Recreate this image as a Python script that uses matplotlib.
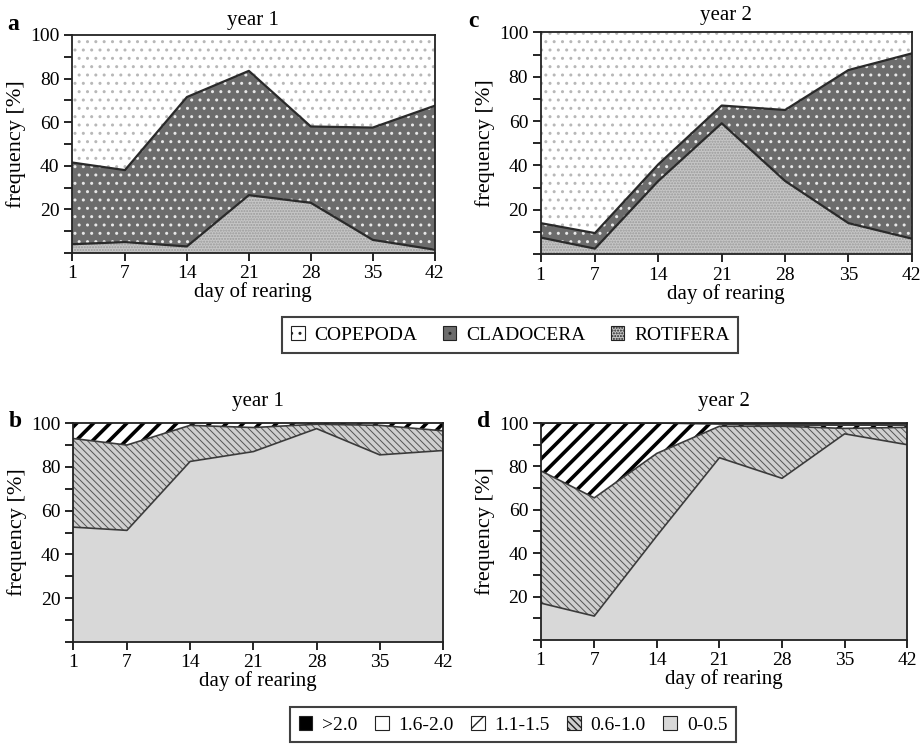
import matplotlib
matplotlib.use("Agg")
import matplotlib.pyplot as plt
from matplotlib.patches import Patch
import numpy as np

plt.rcParams['font.family'] = ['Liberation Serif', 'DejaVu Serif']

days = [1, 7, 14, 21, 28, 35, 42]

# panel a / c: food composition [%]
rotifera_y1 = [4, 5, 3, 26.5, 23, 6, 1.5]
cladocera_y1 = [37.5, 33, 68.5, 57, 35, 51.5, 66]
copepoda_y1 = [58.5, 62, 28.5, 16.5, 42, 42.5, 32.5]

rotifera_y2 = [7.5, 2.5, 33, 59, 33, 14, 7]
cladocera_y2 = [6.5, 7, 7.5, 8, 32, 69, 83.5]
copepoda_y2 = [86, 90.5, 59.5, 33, 35, 17, 9.5]

# panel b / d: size classes [%]
size_labels = ['>2.0', '1.6-2.0', '1.1-1.5', '0.6-1.0', '0-0.5']
s05_y1 = [52.5, 51, 82.5, 87, 97.5, 85.5, 87.5]
s10_y1 = [40.5, 39, 16.5, 11, 2, 13.5, 9]
s15_y1 = [7, 10, 1, 2, 0.5, 1, 3.5]
s20_y1 = [0, 0, 0, 0, 0, 0, 0]
s2p_y1 = [0, 0, 0, 0, 0, 0, 0]

s05_y2 = [17, 11, 48, 84, 74.5, 95, 90]
s10_y2 = [61, 54.5, 38, 14.5, 24, 2.5, 8]
s15_y2 = [22, 34.5, 14, 1, 0.5, 1.5, 1]
s20_y2 = [0, 0, 0, 0.5, 0.5, 0.5, 0.5]
s2p_y2 = [0, 0, 0, 0, 0.5, 0.5, 0.5]

# styles: (facecolor, hatch, hatchcolor, hatch linewidth)
food_styles = {
    'ROTIFERA': ('#c6c6c6', '......', '#9a9a9a', 1.0),
    'CLADOCERA': ('#6c6c6c', '..', '#e8e8e8', 1.0),
    'COPEPODA': ('#ffffff', '..', '#b8b8b8', 1.0),
}
size_styles = {
    '0-0.5': ('#d8d8d8', None, '#d8d8d8', 1.0),
    '0.6-1.0': ('#cfcfcf', '\\\\\\\\\\', '#555555', 0.7),
    '1.1-1.5': ('#ffffff', '//', '#000000', 2.6),
    '1.6-2.0': ('#ffffff', None, '#000000', 1.0),
    '>2.0': ('#000000', None, '#000000', 1.0),
}

fig = plt.figure(figsize=(9.21, 7.52), dpi=100)

ax_a = fig.add_axes([0.078, 0.6636, 0.394, 0.290])
ax_c = fig.add_axes([0.587, 0.662, 0.403, 0.295])
ax_b = fig.add_axes([0.079, 0.1463, 0.402, 0.291])
ax_d = fig.add_axes([0.587, 0.149, 0.398, 0.2885])


def stack(ax, layers, styles, line_color, line_width):
    x = np.array(days)
    base = np.zeros(len(days))
    for name, vals in layers:
        fc, hatch, hc, hlw = styles[name]
        top = base + np.array(vals)
        with plt.rc_context({'hatch.linewidth': hlw}):
            poly = ax.fill_between(x, base, top, facecolor=fc, hatch=hatch,
                                   edgecolor=hc, linewidth=0, zorder=1)
            if hasattr(poly, 'set_hatch_linewidth'):
                poly.set_hatch_linewidth(hlw)
        if top.min() < 99.9:
            ax.plot(x, top, color=line_color, lw=line_width, zorder=2)
        base = top


def style_axes(ax, title, letter, lx, ly, title_pad):
    ax.set_xlim(1, 42)
    ax.set_ylim(0, 100)
    ax.set_xticks(days)
    ax.set_yticks(range(0, 101, 10))
    ax.set_yticklabels(['' if v % 20 or v == 0 else str(v) for v in range(0, 101, 10)])
    ax.tick_params(direction='out', length=6, width=1.2, labelsize=14, pad=3)
    for s in ax.spines.values():
        s.set_linewidth(1.3)
        s.set_color('#222222')
        s.set_zorder(3)
    ax.set_xlabel('day of rearing', fontsize=15, labelpad=0)
    ax.set_ylabel('frequency [%]', fontsize=16, labelpad=3)
    ax.set_title(title, fontsize=15, pad=title_pad)
    fig.text(lx, ly, letter, fontsize=17, fontweight='bold', ha='left', va='center')


stack(ax_a, [('ROTIFERA', rotifera_y1), ('CLADOCERA', cladocera_y1),
             ('COPEPODA', copepoda_y1)], food_styles, '#2a2a2a', 1.6)
stack(ax_c, [('ROTIFERA', rotifera_y2), ('CLADOCERA', cladocera_y2),
             ('COPEPODA', copepoda_y2)], food_styles, '#2a2a2a', 1.6)
stack(ax_b, [('0-0.5', s05_y1), ('0.6-1.0', s10_y1), ('1.1-1.5', s15_y1),
             ('1.6-2.0', s20_y1), ('>2.0', s2p_y1)], size_styles, '#3a3a3a', 1.2)
stack(ax_d, [('0-0.5', s05_y2), ('0.6-1.0', s10_y2), ('1.1-1.5', s15_y2),
             ('1.6-2.0', s20_y2), ('>2.0', s2p_y2)], size_styles, '#3a3a3a', 1.2)

style_axes(ax_a, 'year 1', 'a', 0.008, 0.967, 7)
style_axes(ax_c, 'year 2', 'c', 0.508, 0.971, 9)
style_axes(ax_b, 'year 1', 'b', 0.010, 0.439, 12)
style_axes(ax_d, 'year 2', 'd', 0.518, 0.439, 12)


def legend_handles(names, styles):
    hs = []
    for n in names:
        fc, hatch, hc, hlw = styles[n]
        p = Patch(facecolor=fc, hatch=hatch, edgecolor='#222222', linewidth=0.8, label=n)
        hs.append(p)
    return hs


leg1 = fig.legend(handles=legend_handles(['COPEPODA', 'CLADOCERA', 'ROTIFERA'], food_styles),
                  loc='center', bbox_to_anchor=(0.554, 0.5545), ncol=3, fontsize=14,
                  frameon=True, fancybox=False, edgecolor='#111111', handlelength=0.7,
                  handleheight=0.7, handletextpad=0.5, columnspacing=1.3,
                  borderpad=0.45)
leg1.get_frame().set_linewidth(1.5)

leg2 = fig.legend(handles=legend_handles(size_labels, size_styles),
                  loc='center', bbox_to_anchor=(0.557, 0.036), ncol=5, fontsize=14,
                  frameon=True, fancybox=False, edgecolor='#111111', handlelength=0.7,
                  handleheight=0.7, handletextpad=0.5, columnspacing=0.9,
                  borderpad=0.45)
leg2.get_frame().set_linewidth(1.5)

fig.savefig('out.png', dpi=100)
